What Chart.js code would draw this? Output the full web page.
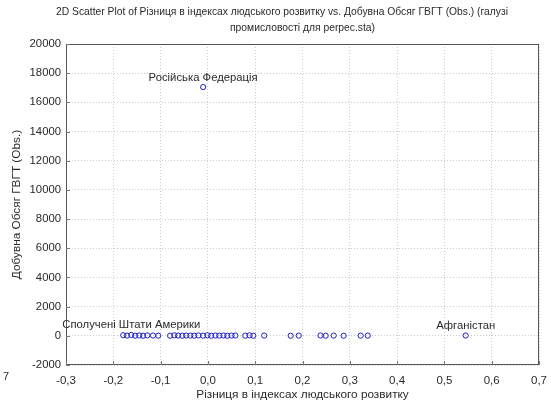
<!DOCTYPE html>
<html>
<head>
<meta charset="utf-8">
<script src="https://cdn.jsdelivr.net/npm/chart.js@4/dist/chart.umd.min.js"></script>
<style>
  html, body { margin: 0; padding: 0; background: #fff; }
  #wrap { width: 551px; height: 410px; position: relative; }
</style>
</head>
<body>
<div id="wrap"><canvas id="scatter"></canvas></div>
<script>
// Різниця в індексах людського розвитку (x) та Добувна Обсяг ГВГТ (y)
const xValues = [
  -0.179, -0.171, -0.162, -0.154, -0.145, -0.137, -0.128,
  -0.116, -0.105,
  -0.080, -0.071, -0.063, -0.054, -0.046, -0.037, -0.029, -0.020,
  -0.010, -0.010, -0.001, 0.007, 0.016, 0.024, 0.033, 0.041, 0.050, 0.058,
  0.079, 0.088, 0.096, 0.119, 0.175, 0.192,
  0.238, 0.249, 0.266, 0.287, 0.323, 0.338, 0.545
];
const yValues = [
  40, 15, 60, 10, 25, 5, 30,
  20, 12,
  8, 35, 18, 6, 22, 14, 9, 28,
  17050, 11, 40, 7, 19, 13, 26, 4, 16, 21,
  10, 33, 8, 15, 6, 12,
  24, 9, 18, 5, 11, 14, 20
];
const pointNames = [
  '', '', 'Сполучені Штати Америки', '', '', '', '',
  '', '',
  '', '', '', '', '', '', '', '',
  'Російська Федерація', '', '', '', '', '', '', '', '', '',
  '', '', '', '', '', '',
  '', '', '', '', '', '', 'Афганістан'
];
const xTicks = [-0.3, 0.7, 0.1];
const yTicks = [-2000, 20000, 2000];

const titleLines = [
  '2D Scatter Plot of Різниця в індексах людського розвитку vs. Добувна Обсяг ГВГТ (Obs.) (галузі',
  'промисловості для perpec.sta)'
];
const xTitle = 'Різниця в індексах людського розвитку';
const yTitle = 'Добувна Обсяг ГВГТ (Obs.)';

const FONT = '"Liberation Sans", Arial, sans-serif';
const TEXT = '#2a2a2a';

const points = xValues.map((x, i) => ({ x: x, y: yValues[i] }));

const decorPlugin = {
  id: 'decor',
  afterDatasetsDraw(chart) {
    const ctx = chart.ctx;
    const area = chart.chartArea;
    const xs = chart.scales.x, ys = chart.scales.y;
    ctx.save();
    // frame
    ctx.strokeStyle = '#555';
    ctx.lineWidth = 1;
    ctx.strokeRect(area.left + 0.5, area.top + 0.5, area.right - area.left - 1, area.bottom - area.top - 1);
    // inner tick marks
    ctx.strokeStyle = '#777';
    ctx.beginPath();
    ys.ticks.forEach(t => {
      const py = Math.round(ys.getPixelForValue(t.value)) + 0.5;
      ctx.moveTo(area.left, py); ctx.lineTo(area.left + 4, py);
    });
    xs.ticks.forEach(t => {
      const px = Math.round(xs.getPixelForValue(t.value)) + 0.5;
      ctx.moveTo(px, area.bottom); ctx.lineTo(px, area.bottom - 4);
    });
    ctx.stroke();
    // point labels
    ctx.fillStyle = TEXT;
    ctx.font = '11.3px ' + FONT;
    ctx.textAlign = 'center';
    ctx.textBaseline = 'bottom';
    pointNames.forEach((name, i) => {
      if (!name) return;
      const px = xs.getPixelForValue(xValues[i]);
      const py = ys.getPixelForValue(yValues[i]);
      ctx.fillText(name, px, py - 4);
    });
    // title
    ctx.font = '10.3px ' + FONT;
    ctx.textBaseline = 'middle';
    ctx.fillText(titleLines[0], 282, 12);
    ctx.fillText(titleLines[1], (area.left + area.right) / 2, 28);
    // axis titles
    ctx.font = '11.8px ' + FONT;
    ctx.fillText(xTitle, (area.left + area.right) / 2, 395);
    ctx.save();
    ctx.translate(17, (area.top + area.bottom) / 2);
    ctx.rotate(-Math.PI / 2);
    ctx.fillText(yTitle, 0, 0);
    ctx.restore();
    ctx.font = '11px ' + FONT;
    ctx.textAlign = 'left';
    ctx.fillText('7', 3, 377);
    ctx.restore();
  }
};

new Chart(document.getElementById('scatter').getContext('2d'), {
  type: 'scatter',
  data: {
    datasets: [{
      data: points,
      pointStyle: 'circle',
      pointRadius: 2.6,
      pointHoverRadius: 2.6,
      pointBorderWidth: 1,
      pointBorderColor: '#1f1fc8',
      pointBackgroundColor: 'rgba(255,255,255,0)'
    }]
  },
  options: {
    responsive: true,
    maintainAspectRatio: false,
    animation: false,
    layout: { padding: { top: 44, right: 12, left: 0, bottom: 0 } },
    plugins: {
      legend: { display: false },
      tooltip: { enabled: false },
      title: { display: false }
    },
    scales: {
      x: {
        type: 'linear',
        min: xTicks[0], max: xTicks[1],
        ticks: {
          stepSize: xTicks[2],
          color: TEXT,
          font: { family: FONT, size: 11.5 },
          padding: 9,
          maxRotation: 0,
          callback: v => (Math.abs(v) < 1e-9 ? 0 : v).toFixed(1).replace('.', ',')
        },
        grid: { color: '#cccccc', drawTicks: false },
        border: { display: false, dash: [1, 2] },
        afterFit: s => { s.height = 45; s.paddingLeft = 0; s.paddingRight = 0; }
      },
      y: {
        type: 'linear',
        min: yTicks[0], max: yTicks[1],
        ticks: {
          stepSize: yTicks[2],
          color: TEXT,
          font: { family: FONT, size: 11.3 },
          padding: 5,
          callback: v => String(v)
        },
        grid: { color: '#cccccc', drawTicks: false },
        border: { display: false, dash: [1, 2] },
        afterFit: s => { s.width = 66; s.paddingTop = 0; s.paddingBottom = 0; }
      }
    }
  },
  plugins: [decorPlugin]
});
</script>
</body>
</html>
